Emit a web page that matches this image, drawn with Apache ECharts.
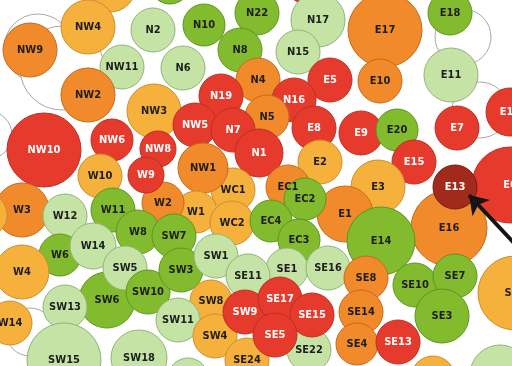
<!DOCTYPE html>
<html><head><meta charset="utf-8">
<script src="https://cdn.jsdelivr.net/npm/echarts@6/dist/echarts.min.js"></script>
<style>html,body{margin:0;padding:0;background:#fff}#c{width:512px;height:366px}</style>
</head><body><div id="c"></div>
<script>
// District bubbles: name, centre x, centre y, radius, colour group
const names = ['','','','NW4','N2','NW9','NW11','NW2','NW3','N6','N10','N22','N17','N8','N15','N4','E5','N19','N16','N5','NW5','N7','E8','N1','E17','E10','E18','E11','E12','E9','E20','E7','E2','E15','E6','E3','E16','E13','E1','E14','EC1','EC2','WC1','NW1','W1','WC2','EC4','EC3','W2','NW8','W9','NW6','W10','NW10','W3','','W12','W11','W8','SW7','W6','W14','W4','SW6','SW5','SW10','SW13','W14','SW15','SW18','SW3','SW1','SE1','SE16','SE11','SW8','SW11','SW4','SE22','SE24','','SW9','SE17','SE15','SE5','SE8','SE14','SE4','SE13','SE10','SE7','SE3','SE9','',''];
const xs = [110,170,307,88,153,30,122,88,154,183,204,257,318,240,298,258,330,221,294,267,195,233,314,259,385,380,450,451,510,361,397,457,320,414,510,378,449,455,345,381,288,305,233,203,196,232,271,299,163,158,146,112,100,44,22,-15,65,113,138,174,60,93,22,107,125,148,65,10,64,139,181,216,287,328,248,211,178,215,309,247,188,245,280,312,275,366,361,357,398,415,455,442,515,500,433];
const ys = [-14,-16,-18,27,30,50,67,95,111,68,25,13,20,50,52,80,80,96,100,117,125,130,128,153,30,81,13,75,112,133,130,128,162,162,185,187,228,187,214,241,187,199,190,168,212,223,221,240,203,149,175,140,176,150,210,215,216,210,232,236,255,246,272,300,268,292,307,323,360,358,270,256,269,268,276,301,320,336,350,360,378,312,299,315,335,278,312,344,342,285,276,316,293,375,378];
const rs = [26,20,22,27,22,27,22,27,27,22,21,22,27,22,22,22,22,22,22,22,22,22,22,24,37,22,22,27,24,22,21,22,22,22,38,27,38,22,28,34,22,21,22,25,21,22,21,21,21,18,18,21,22,37,27,22,22,22,22,22,21,23,27,28,22,22,22,22,37,28,22,22,21,22,22,21,22,22,22,22,20,22,22,22,22,22,22,21,22,22,22,27,37,30,22];
// 0 red, 1 orange, 2 amber, 3 green, 4 light green, 5 dark red
const groups = [2,3,0,2,4,1,4,1,2,4,3,3,4,3,4,1,0,0,0,1,0,0,0,0,1,1,3,4,0,0,3,0,2,0,0,2,1,5,1,3,1,3,2,1,2,2,3,3,1,0,0,0,2,0,1,2,4,3,3,3,3,4,2,3,4,3,4,2,4,4,3,4,4,4,4,2,4,2,4,2,4,0,0,0,0,1,1,1,0,3,3,3,2,4,2];
// empty outline circles behind the bubbles
const ghostX = [38,62,-12,463,480,30];
const ghostY = [48,68,135,37,110,332];
const ghostR = [34,42,24,28,28,24];
// arrow pointing at E13
const arrowX = [528,469];
const arrowY = [258,195];

const palette = ['#e63b2c','#f08a2b','#f6b13c','#82bc2e','#c6e3a6','#a12a1d'];
const borders = ['#b83024','#c46c20','#c98f2e','#5f9420','#90b47a','#6e1c14'];
const textCol = ['#ffffff','#1e1e1e','#1e1e1e','#1e1e1e','#1e1e1e','#ffffff'];

const data = names.map((n,i)=>({
  name:n, value:[xs[i],ys[i],rs[i]],
  itemStyle:{color:palette[groups[i]], borderColor:borders[groups[i]]},
  label:{color:textCol[groups[i]]}
}));
const ghosts = ghostX.map((x,i)=>({value:[x,ghostY[i],ghostR[i]]}));

const chart = echarts.init(document.getElementById('c'));
chart.setOption({
  animation:false,
  backgroundColor:'#ffffff',
  grid:{left:0,right:0,top:0,bottom:0},
  xAxis:{type:'value',min:0,max:512,show:false},
  yAxis:{type:'value',min:0,max:366,inverse:true,show:false},
  series:[
    {type:'scatter',clip:false,silent:true,z:1,data:ghosts,
     symbolSize:v=>v[2]*2,
     itemStyle:{color:'#ffffff',borderColor:'#a8a8a8',borderWidth:1,opacity:1}},
    {type:'scatter',clip:false,z:2,data:data,
     symbolSize:v=>v[2]*2,
     itemStyle:{borderWidth:1,opacity:1},
     label:{show:true,position:'inside',formatter:p=>p.name,
       fontFamily:'"DejaVu Sans Condensed", "DejaVu Sans", sans-serif',fontWeight:'bold',fontSize:11}},
    {type:'lines',coordinateSystem:'cartesian2d',z:5,silent:true,
     symbol:['none','arrow'],symbolSize:[0,18],
     lineStyle:{color:'#151515',width:4,opacity:1,curveness:0},
     data:[{coords:[[arrowX[0],arrowY[0]],[arrowX[1],arrowY[1]]]}]}
  ]
});
</script></body></html>
